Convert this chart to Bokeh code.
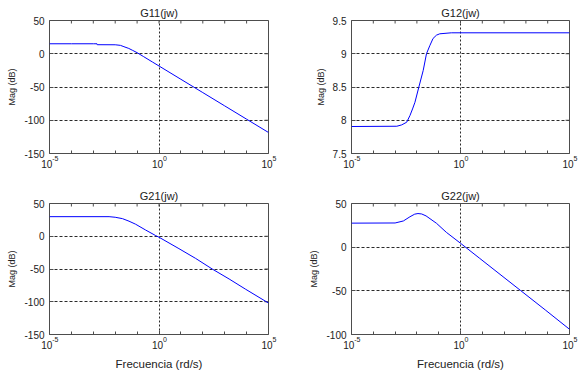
from math import pi

from bokeh.embed import file_html
from bokeh.layouts import column, row
from bokeh.models import CustomJSTickFormatter, FixedTicker, LogAxis
from bokeh.plotting import figure
from bokeh.resources import INLINE

# Frequency axis ticks (rad/s): labelled decades and unlabelled decades between
x_major = [1e-5, 1.0, 1e5]
x_minor = [1e-4, 1e-3, 1e-2, 1e-1, 1e1, 1e2, 1e3, 1e4]
x_label = "Frecuencia (rd/s)"
y_label = "Mag (dB)"

# G11(jw)
w11 = [1e-5, 1e-4, 1e-3, 1.48e-3, 1.51e-3, 1e-2, 1.74e-2, 2.51e-2, 4.17e-2,
       6.31e-2, 0.1, 0.2, 0.5, 1.0, 10.0, 100.0, 1e3, 1e4, 1e5]
mag11 = [15.0, 15.0, 15.0, 15.0, 13.6, 13.5, 12.6, 10.6, 8.0,
         5.0, 1.6, -4.4, -12.4, -18.4, -38.4, -58.4, -78.4, -98.4, -118.4]
yticks11 = [-150, -100, -50, 0, 50]

# G12(jw)
w12 = [1e-5, 1.2e-3, 2e-3, 3.39e-3, 4.79e-3, 6.31e-3, 8.13e-3, 1.23e-2,
       1.95e-2, 2.75e-2, 3.89e-2, 5.5e-2, 7.94e-2, 0.112, 0.38, 1e5]
mag12 = [7.906, 7.91, 7.93, 7.97, 8.07, 8.17, 8.27, 8.5,
         8.75, 9.0, 9.12, 9.23, 9.28, 9.3, 9.315, 9.315]
yticks12 = [7.5, 8, 8.5, 9, 9.5]

# G21(jw)
w21 = [1e-5, 5.25e-3, 1e-2, 2.14e-2, 4.27e-2, 8.51e-2, 0.245, 0.708, 1.0,
       8.13, 46.8, 275.0, 1585.0, 9120.0, 1e5]
mag21 = [29.9, 29.9, 29.0, 26.9, 23.0, 18.4, 9.5, 1.0, -1.5,
         -18.9, -33.8, -50.2, -65.2, -81.0, -102.0]
yticks21 = [-150, -100, -50, 0, 50]

# G22(jw)
w22 = [1e-5, 1e-3, 2.4e-3, 4.79e-3, 7.94e-3, 1.12e-2, 1.66e-2, 2.63e-2,
       7.94e-2, 0.224, 1.0, 7.24, 575.0, 7760.0, 1e5]
mag22 = [27.5, 27.7, 30.0, 34.8, 37.8, 38.5, 38.0, 35.8,
         27.3, 17.0, 4.5, -12.4, -49.7, -71.9, -94.0]
yticks22 = [-100, -50, 0, 50]

FONT = "Liberation Sans"
INK = "#222222"
FRAME = "#4d4d4d"
GRID = "#2a2a2a"

# Decade labels are drawn as "10" plus a small raised exponent. The exponent
# row sits right under the frame; the "10" row is pulled up against it.
# Non-breaking spaces push each part sideways so that "10" and its exponent
# form one group centred on the tick.
exponent_formatter = CustomJSTickFormatter(code="""
const e = Math.round(Math.log10(tick));
return "\\u00a0\\u00a0\\u00a0\\u00a0\\u00a0\\u00a0" + String(e);
""")
base_formatter = CustomJSTickFormatter(code="""
const e = Math.round(Math.log10(tick));
return e < 0 ? "10\\u00a0\\u00a0" : "10\\u00a0";
""")
plain_formatter = CustomJSTickFormatter(code="return String(tick);")


def bode_panel(title, w, mag, yticks, width, height, left, right, top, bottom,
               show_xlabel):
    p = figure(width=width, height=height, x_axis_type="log",
               x_range=(x_major[0], x_major[-1]),
               y_range=(yticks[0], yticks[-1]),
               output_backend="svg", toolbar_location=None,
               min_border_left=left, min_border_right=right,
               min_border_top=top, min_border_bottom=bottom,
               background_fill_color="white", border_fill_color="white")

    p.title.text = title
    p.title.text_font = FONT
    p.title.text_font_size = "11px"
    p.title.text_font_style = "normal"
    p.title.text_color = INK
    p.title.align = "center"
    p.title.standoff = 4

    p.outline_line_color = FRAME
    p.outline_line_width = 1

    x_ticker = FixedTicker(ticks=x_major, minor_ticks=x_minor)

    # exponent row, also carries the inward tick marks
    xa = p.xaxis[0]
    xa.ticker = x_ticker
    xa.formatter = exponent_formatter
    xa.axis_line_color = None
    xa.major_tick_in = 4
    xa.major_tick_out = 0
    xa.minor_tick_in = 3
    xa.minor_tick_out = 0
    xa.major_tick_line_color = FRAME
    xa.minor_tick_line_color = FRAME
    xa.major_label_text_font = FONT
    xa.major_label_text_font_size = "7px"
    xa.major_label_text_color = INK
    xa.major_label_standoff = 1

    # "10" row
    xb = LogAxis(ticker=x_ticker, formatter=base_formatter)
    xb.axis_line_color = None
    xb.major_tick_line_color = None
    xb.minor_tick_line_color = None
    xb.major_tick_in = 0
    xb.major_tick_out = 0
    xb.minor_tick_in = 0
    xb.minor_tick_out = 0
    xb.major_label_text_font = FONT
    xb.major_label_text_font_size = "10px"
    xb.major_label_text_color = INK
    xb.major_label_standoff = -6
    if show_xlabel:
        xb.axis_label = x_label
        xb.axis_label_text_font = FONT
        xb.axis_label_text_font_size = "11.5px"
        xb.axis_label_text_font_style = "normal"
        xb.axis_label_text_color = INK
        xb.axis_label_standoff = 4
    p.add_layout(xb, "below")

    ya = p.yaxis[0]
    ya.ticker = FixedTicker(ticks=yticks, minor_ticks=[])
    ya.formatter = plain_formatter
    ya.axis_line_color = None
    ya.major_tick_in = 4
    ya.major_tick_out = 0
    ya.minor_tick_in = 0
    ya.minor_tick_out = 0
    ya.major_tick_line_color = FRAME
    ya.major_label_text_font = FONT
    ya.major_label_text_font_size = "10px"
    ya.major_label_text_color = INK
    ya.major_label_standoff = 5
    ya.axis_label = y_label
    ya.axis_label_text_font = FONT
    ya.axis_label_text_font_size = "9px"
    ya.axis_label_text_font_style = "normal"
    ya.axis_label_text_color = INK
    ya.axis_label_standoff = 4

    # dotted grid only at the interior labelled ticks
    p.xgrid.ticker = FixedTicker(ticks=x_major[1:-1])
    p.ygrid.ticker = FixedTicker(ticks=yticks[1:-1])
    p.xgrid.grid_line_color = GRID
    p.xgrid.grid_line_dash = "2 2"
    p.ygrid.grid_line_color = GRID
    p.ygrid.grid_line_dash = "3 2"

    # tick marks on the top and right edges of the box
    p.ray(x=x_major + x_minor, y=[yticks[-1]] * (len(x_major) + len(x_minor)),
          length=3, length_units="screen", angle=-pi / 2,
          line_color=FRAME, line_width=1)
    p.ray(x=[x_major[-1]] * len(yticks), y=yticks,
          length=4, length_units="screen", angle=pi,
          line_color=FRAME, line_width=1)

    p.line(w, mag, line_color="#0000ff", line_width=1)
    return p


p11 = bode_panel("G11(jw)", w11, mag11, yticks11, 289, 180, 49, 21, 20, 27, False)
p12 = bode_panel("G12(jw)", w12, mag12, yticks12, 289, 180, 62, 9, 20, 27, False)
p21 = bode_panel("G21(jw)", w21, mag21, yticks21, 289, 192, 49, 21, 23, 35, True)
p22 = bode_panel("G22(jw)", w22, mag22, yticks22, 289, 192, 62, 9, 23, 35, True)

page = column(row(p11, p12), row(p21, p22))

open("out.html", "w").write(file_html(page, INLINE))
